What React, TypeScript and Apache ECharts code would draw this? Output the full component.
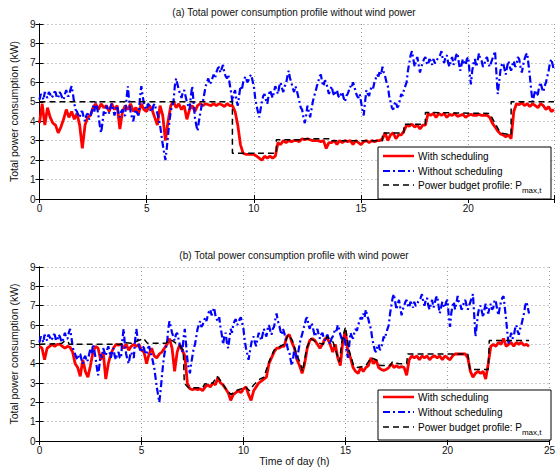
import React, { useEffect, useRef } from 'react';
import * as echarts from 'echarts';

// sampling steps of the recorded profiles (hours)
const STEP_LOAD_H = 0.0625;
const STEP_SCHED_H = 0.125;

// Without scheduling (same load in both cases), 0 .. 24 h every 0.0625 h
const withoutScheduling: number[] = [
  5.1, 5.4, 5.3, 5.1, 5.5, 5.3, 5.2, 5.5, 5.4, 5.2, 5.3, 5.5, 5.5, 5.2, 5.2, 5.5,
  5.4, 5.2, 5.1, 5.4, 5.6, 5.3, 5.3, 5.6, 5.8, 5.4, 4.9, 4.6, 4.5, 4.3, 4.2, 4.5,
  4.5, 4.2, 4.0, 4.3, 4.4, 4.1, 4.2, 4.5, 4.8, 4.5, 5.0, 4.7, 4.3, 3.8, 3.4, 3.9,
  4.5, 4.3, 4.8, 4.6, 4.4, 4.7, 4.9, 4.6, 4.3, 4.6, 4.8, 4.4, 4.2, 4.5, 4.6, 4.3,
  4.3, 5.2, 5.8, 5.0, 4.5, 4.2, 4.0, 4.4, 4.6, 4.4, 4.3, 5.2, 5.8, 5.3, 4.9, 4.7,
  4.6, 4.9, 4.8, 4.5, 4.5, 4.8, 4.9, 4.6, 4.4, 4.1, 3.8, 3.3, 2.8, 2.4, 2.0, 2.6,
  3.3, 4.0, 4.5, 4.8, 5.0, 5.8, 6.2, 5.9, 5.6, 5.4, 5.2, 5.5, 5.6, 5.3, 5.0, 4.8,
  4.6, 5.3, 5.8, 5.0, 4.2, 3.8, 3.5, 4.0, 4.4, 4.8, 5.0, 5.4, 5.8, 6.0, 6.2, 5.9,
  6.0, 6.2, 6.4, 6.2, 6.5, 6.7, 6.8, 6.5, 6.7, 6.9, 6.5, 6.3, 6.2, 6.4, 5.9, 5.5,
  5.0, 5.4, 5.6, 5.1, 4.8, 5.3, 5.8, 5.6, 6.0, 6.2, 6.3, 6.0, 6.1, 6.3, 6.4, 6.1,
  5.8, 5.2, 4.8, 4.5, 4.2, 4.6, 5.0, 5.3, 5.4, 5.1, 4.9, 5.3, 5.6, 5.4, 5.2, 5.5,
  5.8, 5.6, 5.4, 5.8, 6.0, 5.7, 5.5, 5.8, 5.9, 6.3, 6.6, 6.2, 6.0, 5.7, 5.5, 5.8,
  5.6, 5.3, 5.0, 4.7, 4.6, 4.2, 3.9, 4.3, 4.8, 4.5, 4.2, 4.6, 5.0, 5.3, 5.5, 5.8,
  6.0, 6.3, 6.4, 6.0, 5.8, 6.1, 6.0, 5.7, 5.4, 5.6, 5.8, 5.5, 5.3, 5.5, 5.6, 5.3,
  5.2, 5.4, 5.5, 5.2, 5.0, 5.3, 5.4, 5.6, 5.8, 5.7, 6.0, 5.8, 5.5, 5.3, 5.2, 5.4,
  5.0, 4.6, 4.3, 5.0, 5.6, 5.4, 5.3, 5.6, 5.8, 5.7, 6.0, 6.2, 6.4, 6.3, 6.6, 6.4,
  6.8, 6.5, 6.3, 6.0, 5.8, 5.3, 5.0, 4.7, 4.6, 4.9, 5.0, 4.7, 4.8, 5.1, 5.4, 5.3,
  5.6, 5.8, 6.0, 6.6, 7.0, 7.4, 7.6, 7.2, 6.8, 7.1, 7.3, 6.9, 6.5, 6.8, 7.0, 7.2,
  7.3, 7.0, 6.9, 7.2, 7.1, 6.9, 7.2, 7.0, 7.0, 7.2, 7.3, 7.4, 7.6, 7.2, 7.0, 7.3,
  7.4, 7.0, 6.8, 7.1, 7.3, 6.9, 7.1, 7.4, 7.5, 7.0, 6.6, 6.9, 7.2, 7.0, 6.9, 7.2,
  7.3, 6.5, 5.9, 6.6, 7.0, 7.2, 6.8, 7.1, 7.5, 7.2, 7.1, 6.8, 6.9, 7.2, 7.3, 7.0,
  6.8, 7.0, 7.2, 7.4, 7.6, 6.5, 5.4, 6.0, 6.6, 6.9, 7.0, 6.7, 6.4, 6.8, 7.1, 6.8,
  6.6, 6.9, 7.1, 6.8, 6.9, 7.3, 7.2, 6.8, 6.5, 6.9, 7.2, 7.4, 7.5, 6.9, 6.3, 5.6,
  5.0, 5.3, 5.6, 5.3, 5.4, 5.8, 6.0, 5.7, 5.5, 5.8, 6.0, 6.3, 6.6, 7.0, 7.2, 6.9,
  6.6,
];

// (a) With scheduling, without wind power, 0 .. 24 h every 0.125 h
const withSchedulingA: number[] = [
  3.9, 4.9, 3.8, 4.7, 4.2, 3.9, 3.8, 3.4,
  3.7, 4.1, 4.6, 4.2, 4.5, 4.1, 4.4, 3.8,
  2.6, 3.8, 4.2, 4.3, 4.7, 4.9, 4.6, 4.9,
  4.7, 4.8, 4.5, 4.9, 4.6, 4.8, 3.6, 4.5,
  4.8, 4.6, 4.9, 4.5, 4.7, 4.4, 4.9, 4.6,
  4.5, 4.8, 4.6, 4.2, 3.8, 4.8, 4.3, 3.0,
  4.0, 4.8, 5.0, 4.7, 4.9, 4.6, 4.8, 4.1,
  4.6, 4.8, 4.5, 4.8, 4.9, 4.8, 4.9, 4.85,
  4.8, 4.9, 4.8, 4.9, 4.85, 4.75, 4.9, 4.8,
  4.8, 4.5, 3.8, 2.8, 2.35, 2.3, 2.3, 2.3,
  2.3, 2.2, 2.1, 2.0, 2.2, 2.1, 2.2, 2.1,
  2.2, 2.9, 2.8, 3.0, 2.9, 3.0, 2.95, 3.0,
  3.0, 2.95, 3.1, 3.05, 3.1, 3.05, 3.0, 3.0,
  3.0, 2.95, 3.0, 2.6, 2.9, 2.9, 3.0, 2.8,
  3.0, 2.9, 3.0, 2.95, 3.0, 2.8, 3.0, 2.9,
  2.8, 2.95, 3.0, 2.9, 3.0, 2.95, 3.0, 3.0,
  3.1, 3.4, 3.0, 3.3, 3.4, 3.1, 3.3, 3.3,
  3.5, 3.8, 3.75, 3.85, 3.7, 3.8, 3.6, 3.8,
  3.8, 4.4, 4.3, 4.4, 4.2, 4.4, 4.3, 4.4,
  4.2, 4.35, 4.3, 4.4, 4.25, 4.3, 4.35, 4.2,
  4.3, 4.35, 4.3, 4.3, 4.35, 4.3, 4.3, 4.3,
  4.2, 3.9, 3.7, 3.5, 3.35, 3.3, 3.2, 3.3,
  3.1, 4.5, 4.9, 4.85, 4.95, 4.8, 4.9, 4.75,
  4.9, 4.8, 4.7, 4.9, 4.8, 4.6, 4.75, 4.5,
  4.6,
];

// (b) With scheduling, with wind power, 0 .. 24 h every 0.125 h
const withSchedulingB: number[] = [
  4.9, 4.8, 4.2, 4.8, 4.9, 5.0, 4.9, 5.0,
  5.0, 4.9, 4.8, 4.9, 4.85, 4.6, 4.0, 3.8,
  3.35, 4.2, 3.6, 3.3, 3.9, 4.6, 4.9, 4.8,
  4.2, 4.6, 3.2, 4.0, 4.5, 4.8, 5.0, 4.95,
  5.0, 4.8, 5.0, 4.7, 4.9, 5.0, 4.9, 5.0,
  4.7, 4.6, 4.0, 4.5, 4.8, 4.4, 4.3, 4.5,
  4.6, 4.8, 5.0, 5.3, 4.8, 3.6, 4.6, 5.0,
  4.7, 4.4, 3.0, 2.7, 2.65, 2.7, 2.65, 2.7,
  2.6, 2.8, 2.9, 2.8, 3.0, 2.9, 3.3, 3.0,
  2.9, 2.7, 2.5, 2.1, 2.4, 2.5, 2.6, 2.5,
  2.7, 2.8, 2.4, 2.1, 2.6, 2.8, 3.0, 3.1,
  3.2, 3.3, 4.0, 4.3, 4.6, 4.8, 4.8, 4.9,
  4.9, 5.4, 5.5, 5.1, 4.8, 4.2, 3.9, 3.5,
  4.0, 4.8, 5.2, 5.3, 5.2, 5.0, 4.8, 5.0,
  5.3, 5.3, 5.0, 4.6, 5.0, 4.3, 3.9, 5.2,
  5.7, 4.6, 4.3, 3.8, 3.6, 3.5, 3.8, 3.6,
  3.8, 3.9, 4.3, 4.0, 4.2, 3.8, 3.7, 3.65,
  3.7, 3.8, 4.0, 3.8, 3.9, 3.8, 3.85, 3.8,
  3.4, 4.2, 4.4, 4.3, 4.4, 4.2, 4.4, 4.3,
  4.4, 4.2, 4.35, 4.4, 4.3, 4.4, 4.2, 4.4,
  4.3, 4.2, 4.4, 4.5, 4.5, 4.5, 4.5, 4.5,
  4.3, 3.6, 3.3, 3.5, 3.6, 3.5, 3.6, 3.2,
  4.0, 4.9, 5.0, 4.9, 5.1, 5.0, 5.3, 4.9,
  5.0, 5.1, 4.9, 5.1, 5.0, 5.1, 4.95, 5.0,
  4.9,
];

// Power budget profiles: [hour, kW] corner points
const budgetA: [number, number][] = [
  [0, 5.0], [9.0, 5.0], [9.0, 2.35], [11.05, 2.35], [11.05, 3.05], [12.3, 3.05],
  [12.3, 3.1], [13.6, 3.1], [13.6, 3.0], [16.0, 3.0], [16.0, 3.4], [17.0, 3.4],
  [17.0, 3.85], [18.0, 3.85], [18.0, 4.45], [21.0, 4.4], [21.5, 3.4], [22.0, 3.3],
  [22.0, 5.0], [24.0, 5.0],
];

const budgetB: [number, number][] = [
  [0, 5.0], [1.1, 5.05], [1.2, 5.15], [1.4, 5.15], [1.45, 5.0], [4.0, 5.0], [4.1, 5.1],
  [4.5, 5.05], [5.1, 5.3], [5.3, 5.05], [6.2, 5.05], [6.3, 5.2], [6.5, 5.2], [6.9, 4.9],
  [7.05, 4.7], [7.1, 3.0], [7.3, 2.75], [8.0, 2.75], [8.1, 2.95], [8.5, 3.0], [8.7, 3.35],
  [8.9, 3.1], [9.2, 2.6], [9.4, 2.4], [9.6, 2.6], [9.9, 2.7], [10.1, 2.8], [10.3, 2.6],
  [10.5, 2.9], [10.8, 3.2], [11.0, 3.3], [11.25, 4.1], [11.5, 4.7], [11.8, 4.9], [12.0, 5.0],
  [12.2, 5.5], [12.4, 5.2], [12.6, 4.5], [12.8, 4.0], [12.9, 3.6], [13.1, 4.8], [13.3, 5.3],
  [13.6, 5.1], [13.9, 5.0], [14.1, 5.4], [14.4, 5.1], [14.7, 4.1], [14.85, 5.3], [15.0, 5.9],
  [15.15, 4.8], [15.4, 3.9], [15.6, 3.8], [16.0, 3.9], [16.25, 4.3], [16.5, 4.2], [16.7, 3.9],
  [17.2, 3.9], [17.3, 4.1], [17.6, 4.0], [18.0, 4.0], [18.05, 4.5], [21.0, 4.5], [21.1, 3.7],
  [22.0, 3.7], [22.05, 5.2], [24.0, 5.2],
];

const titles = [
  '(a) Total power consumption profile without wind power',
  '(b) Total power consumption profile with wind power',
];
const legendNames = ['With scheduling', 'Without scheduling', 'Power budget profile'];
const xMaxes = [24, 25];
const yTicks = { min: 0, max: 9, interval: 1 };
const xTickInterval = 5;

const FONT = 'Liberation Sans, Arial, Helvetica, sans-serif';

const toPairs = (vals: number[], step: number) => vals.map((v, i) => [i * step, v]);

export default function App() {
  const ref = useRef<HTMLDivElement>(null);

  useEffect(() => {
    const chart = echarts.init(ref.current!, null, { renderer: 'svg' });

    const grids = [
      { left: 33, right: 4, top: 24, height: 175 },
      { left: 33, right: 4, top: 267, height: 174 },
    ];

    const gridLine = { show: true, lineStyle: { color: '#9a9a9a', type: [1, 3] as any, width: 1 } };
    const tickIn = { show: true, inside: true, length: 4, lineStyle: { color: '#000', width: 1 } };
    const axisLine = { show: true, lineStyle: { color: '#000', width: 1 } };
    const labelStyle = { fontSize: 10, color: '#111', fontFamily: FONT };

    const xAxes: any[] = [];
    const yAxes: any[] = [];
    [0, 1].forEach((g) => {
      xAxes.push({
        type: 'value', gridIndex: g, min: 0, max: xMaxes[g], interval: xTickInterval,
        axisLine, axisTick: tickIn, splitLine: gridLine,
        axisLabel: { ...labelStyle, margin: 4, formatter: (v: number) => (v % 5 === 0 ? String(v) : '') },
        name: g === 1 ? 'Time of day (h)' : '', nameLocation: 'middle', nameGap: 14,
        nameTextStyle: { fontSize: 10.5, color: '#111', fontFamily: FONT },
      });
      yAxes.push({
        type: 'value', gridIndex: g, ...yTicks,
        axisLine, axisTick: tickIn, splitLine: gridLine,
        axisLabel: { ...labelStyle, margin: 4 },
        name: 'Total power consumption (kW)', nameLocation: 'middle', nameGap: 13,
        nameTextStyle: { fontSize: 10.5, color: '#111', fontFamily: FONT },
      });
    });
    [0, 1].forEach((g) => {
      xAxes.push({
        type: 'value', gridIndex: g, min: 0, max: xMaxes[g], interval: xTickInterval, position: 'top',
        axisLine, axisTick: tickIn, splitLine: { show: false }, axisLabel: { show: false },
      });
      yAxes.push({
        type: 'value', gridIndex: g, ...yTicks, position: 'right',
        axisLine, axisTick: tickIn, splitLine: { show: false }, axisLabel: { show: false },
      });
    });

    const seriesFor = (g: number, red: number[], budget: [number, number][]) => [
      {
        name: legendNames[0], type: 'line', xAxisIndex: g, yAxisIndex: g,
        data: toPairs(red, STEP_SCHED_H), showSymbol: false, symbol: 'none',
        lineStyle: { color: '#ff0000', width: 2.8 }, itemStyle: { color: '#ff0000' }, z: 2,
      },
      {
        name: legendNames[1], type: 'line', xAxisIndex: g, yAxisIndex: g,
        data: toPairs(withoutScheduling, STEP_LOAD_H), showSymbol: false, symbol: 'none',
        lineStyle: { color: '#0000ff', width: 2.2, type: [7, 3, 2, 3] }, itemStyle: { color: '#0000ff' }, z: 3,
      },
      {
        name: legendNames[2], type: 'line', xAxisIndex: g, yAxisIndex: g,
        data: budget, showSymbol: false, symbol: 'none',
        lineStyle: { color: '#000', width: 1.5, type: [6, 4] }, itemStyle: { color: '#000' }, z: 4,
      },
    ];

    const legendBox = (boxTop: number, rows: number[], boxH: number) => {
      const lx1 = 383, lx2 = 414, tx = 418;
      const txt = (y: number, text: string, rich?: any) => ({
        type: 'text', x: tx, y, z: 100,
        style: {
          text, fill: '#000', font: `10px ${FONT}`, fontSize: 10, fontFamily: FONT,
          verticalAlign: 'middle', align: 'left', rich,
        },
      });
      return [
        { type: 'rect', z: 99, shape: { x: 378, y: boxTop, width: 173, height: boxH },
          style: { fill: '#fff', stroke: '#000', lineWidth: 1 } },
        { type: 'line', z: 100, shape: { x1: lx1, y1: rows[0], x2: lx2, y2: rows[0] },
          style: { stroke: '#ff0000', lineWidth: 2.5 } },
        txt(rows[0], legendNames[0]),
        { type: 'line', z: 100, shape: { x1: lx1, y1: rows[1], x2: lx2, y2: rows[1] },
          style: { stroke: '#0000ff', lineWidth: 2, lineDash: [7, 3, 2, 3] } },
        txt(rows[1], legendNames[1]),
        { type: 'line', z: 100, shape: { x1: lx1, y1: rows[2], x2: lx2, y2: rows[2] },
          style: { stroke: '#000', lineWidth: 1.5, lineDash: [6, 4] } },
        txt(rows[2], '{a|' + legendNames[2] + ': P}{s|max,t}', {
          a: { fontSize: 10, fontFamily: FONT, fill: '#000', lineHeight: 18, verticalAlign: 'middle' },
          s: { fontSize: 8, fontFamily: FONT, fill: '#000', lineHeight: 8, verticalAlign: 'bottom' },
        }),
      ];
    };

    chart.setOption({
      animation: false,
      backgroundColor: '#fff',
      title: titles.map((t, i) => ({
        text: t, left: 294, top: i === 0 ? 7 : 250, textAlign: 'center', padding: 0,
        textStyle: { fontSize: 10, fontWeight: 'normal', color: '#111', fontFamily: FONT },
      })),
      grid: grids,
      xAxis: xAxes,
      yAxis: yAxes,
      series: [...seriesFor(0, withSchedulingA, budgetA), ...seriesFor(1, withSchedulingB, budgetB)],
      graphic: [...legendBox(147, [156, 171, 185], 52), ...legendBox(390, [397, 412, 427], 50)],
    });

    return () => chart.dispose();
  }, []);

  return (
    <div
      ref={ref}
      style={{ position: 'fixed', left: 0, top: 0, width: 558, height: 468, background: '#fff' }}
    />
  );
}
